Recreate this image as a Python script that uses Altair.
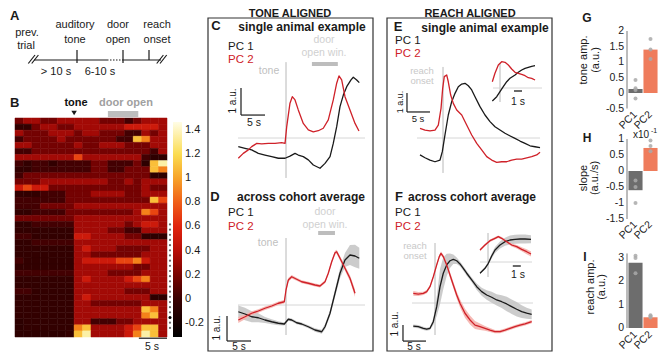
import altair as alt
import pandas as pd

FONT = "Liberation Sans"
OFF = 8
W, H = 650, 344
INK = "#1a1a1a"
RED = "#cf2129"
PINK = "#f5b3ad"
BANDGRAY = "#c6c6c6"

# ---------------- data ----------------
# Panel A schematic (schematic units)
timeline_events = ["auditory tone", "door open", "reach onset"]
timeline_pos = [49, 95, 121]

# Panel B heatmap: one string per animal/row, digit = index into heat_levels
heat_levels = [-0.3, -0.15, 0.03, 0.18, 0.33, 0.5, 0.7, 0.9, 1.1, 1.35]
heat_edges = [-10.5, -9, -7.5, -6, -4.5, -3, -1.5, 0, 1.5, 3, 4.5, 6, 7.5, 9, 10.5, 12, 13.5, 15, 16.5]
heat_rows = [
    "344334444433323444",
    "113443344444455554",
    "433344434433322434",
    "233334333333228744",
    "443333343344433344",
    "223333333333333324",
    "444444464444444200",
    "212212222332223089",
    "112222222332233387",
    "233333333333333300",
    "333444444443343444",
    "565533333333333433",
    "111222333444433444",
    "222222333333333386",
    "222333344444444444",
    "112222333333334764",
    "333333344444444444",
    "112222244444434554",
    "111111144443322444",
    "221111155444433100",
    "112222244444444444",
    "111111145444333344",
    "111111144333333444",
    "211111145555667544",
    "111111144444443344",
    "222222244443333444",
    "111111145444456744",
    "111111144444444444",
    "221111144444433344",
    "111111145444444400",
    "111111144333333444",
    "111111144444444874",
    "111111144444444784",
    "011111144222334444",
    "011111178444456884",
    "000000189444457984",
]
marker_rows = [17.5, 18.35, 19.2, 20.05, 20.9, 21.75, 22.6, 23.45, 24.3, 25.15, 26.0,
               26.85, 27.7, 28.55, 29.4, 30.25, 31.1, 31.95, 33.65, 34.5]
marker_black = [32.8]
door_open_heat = [6.0, 11.4]
heat_domain = [-0.32, 0, 0.2, 0.4, 0.6, 0.8, 1.0, 1.2, 1.47]
heat_colors = ["#000000", "#3a0000", "#7a0400", "#b80e08", "#e0240e", "#f05e18",
               "#f7a228", "#fbdc50", "#fffde6"]
cbar_ticks = [-0.2, 0, 0.2, 0.4, 0.6, 0.8, 1, 1.2, 1.4]
cbar_labels = ["-0.2", "0", "0.2", "0.4", "0.6", "0.8", "1", "1.2", "1.4"]

# Panel C (single animal, tone aligned)
C_t2 = [-9.94, -8.9, -7.85, -7.15, -6.1, -5.06, -3.69, -2.29, -0.9, -0.2, 0.15, 0.83, 1.31, 1.88, 2.56,
        3.6, 4.65, 5.69, 6.73, 7.77, 8.81, 9.85, 10.56, 11.04, 11.6, 12.29, 13.33, 14.38, 15.2]
C_pc2 = [-0.75, -0.57, -0.44, -0.32, -0.2, -0.22, -0.2, -0.2, -0.17, -0.2, 0.42, 1.29, 1.53, 1.41, 1.04,
         0.54, 0.3, 0.23, 0.27, 0.36, 0.67, 1.41, 2.03, 2.3, 2.15, 1.53, 1.04, 0.54, 0.26]
C_t1 = [-9.94, -8.54, -7.15, -5.77, -4.38, -2.98, -1.6, -0.2, 0.83, 1.88, 2.56, 3.6, 4.65, 5.69, 7.08,
        8.13, 9.17, 9.85, 10.56, 11.25, 11.94, 12.65, 13.54, 14.02, 14.73, 15.27]
C_pc1 = [-0.32, -0.38, -0.44, -0.57, -0.63, -0.69, -0.75, -0.75, -0.67, -0.57, -0.63, -0.69, -0.81, -1.0,
         -1.12, -0.94, -0.69, -0.2, 0.42, 1.16, 1.59, 1.9, 2.15, 2.25, 2.15, 2.05]
C_door = [5.4, 10.8]

# Panel D (cohort average, tone aligned)
D_t2 = [-9.94, -8.54, -7.15, -5.77, -4.38, -2.98, -1.6, -0.35, 0, 0.48, 1.19, 2.23, 3.27, 4.65, 6.04,
        7.08, 8.13, 8.81, 9.52, 10.21, 10.56, 11.25, 12.29, 13.33, 14.38]
D_pc2 = [-0.6, -0.47, -0.33, -0.24, -0.13, -0.04, 0.07, 0.13, 0.6, 1.0, 1.13, 1.03, 0.93, 0.87, 0.8,
         0.76, 0.93, 1.27, 1.73, 2.09, 2.13, 1.87, 1.47, 1.07, 0.47]
D_pc2_err = [0.12, 0.1, 0.08, 0.07, 0.07, 0.07, 0.07, 0.07, 0.08, 0.08, 0.07, 0.06, 0.06, 0.06, 0.06,
             0.06, 0.06, 0.07, 0.07, 0.08, 0.08, 0.09, 0.1, 0.12, 0.15]
D_t1 = [-9.94, -8.54, -7.15, -5.77, -4.38, -2.98, -1.6, -0.35, 0.48, 1.19, 2.23, 3.27, 4.65, 6.04, 7.44,
        8.13, 9.17, 10.21, 11.25, 12.29, 13.33, 14.38, 15.27]
D_pc1 = [-0.27, -0.36, -0.47, -0.51, -0.6, -0.67, -0.73, -0.76, -0.57, -0.6, -0.71, -0.76, -0.87, -1.0,
         -1.07, -0.87, -0.33, 0.47, 1.27, 1.8, 2.0, 1.96, 1.87]
D_pc1_err = [0.25, 0.25, 0.22, 0.18, 0.12, 0.1, 0.08, 0.06, 0.06, 0.06, 0.06, 0.06, 0.06, 0.07, 0.08,
             0.1, 0.12, 0.15, 0.2, 0.28, 0.4, 0.45, 0.42]
D_door = [6.7, 10.2]

# Panel E (single animal, reach aligned) + inset
E_t2 = [-5.0, -3.91, -2.83, -1.74, -1.02, -0.43, -0.07, 0.28, 0.8, 1.15, 1.67, 2.24, 2.98, 4.07, 5.15,
        6.24, 7.33, 8.41, 9.5, 10.59, 11.67, 12.76, 13.85, 14.93, 16.02, 17.11, 18.2, 19.28, 20.37, 21.09]
E_pc2 = [0.51, 0.42, 0.37, 0.42, 0.68, 1.56, 2.61, 3.23, 3.32, 2.96, 2.26, 1.82, 1.47, 1.21, 0.68,
         0.16, -0.28, -0.63, -0.98, -1.16, -1.28, -1.25, -1.25, -1.16, -1.11, -1.11, -1.04, -0.98, -0.89, -0.75]
E_t1 = [-5.0, -3.91, -2.83, -1.74, -0.65, -0.15, 0.43, 1.15, 1.89, 2.61, 3.33, 4.07, 4.78, 5.5, 6.24,
        6.96, 8.04, 9.13, 10.22, 11.3, 12.39, 13.48, 14.5, 15.65, 16.74, 17.83, 18.91, 20.0, 21.09]
E_pc1 = [-0.89, -1.04, -1.16, -1.25, -1.16, -0.72, 0.16, 1.21, 1.91, 2.35, 2.7, 2.84, 2.88, 2.75, 2.53,
         2.17, 1.65, 1.21, 0.86, 0.59, 0.42, 0.25, 0.12, -0.02, -0.16, -0.28, -0.41, -0.46, -0.51]
Ei_t2 = [-0.96, -0.63, -0.21, 0.21, 0.63, 1.04, 1.46, 1.88, 2.29, 2.71, 3.13, 3.54, 3.96, 4.38]
Ei_pc2 = [0.63, 1.47, 2.3, 2.63, 2.57, 2.3, 1.9, 1.57, 1.47, 1.37, 1.23, 1.03, 0.97, 0.8]
Ei_t1 = [-0.96, -0.41, 0.0, 0.41, 0.84, 1.25, 1.88, 2.29, 2.71, 3.13, 3.54, 3.96, 4.38]
Ei_pc1 = [-1.3, -0.87, -0.37, 0.13, 0.63, 0.97, 1.3, 1.57, 1.8, 1.97, 2.07, 2.17, 2.23]

# Panel F (cohort average, reach aligned) + inset
F_t2 = [-4.72, -3.63, -2.54, -1.8, -1.09, -0.37, 0.37, 0.93, 1.3, 1.8, 2.54, 3.26, 3.98, 4.72, 5.43,
        6.52, 7.61, 8.7, 9.78, 10.87, 11.96, 13.04, 14.13, 15.22, 16.3, 17.39, 18.48, 19.57, 21.02]
F_pc2 = [0.6, 0.56, 0.6, 0.71, 1.02, 1.64, 2.38, 2.9, 3.1, 2.9, 2.38, 1.75, 1.13, 0.5, -0.02,
         -0.64, -1.06, -1.38, -1.48, -1.58, -1.69, -1.79, -1.79, -1.69, -1.58, -1.48, -1.38, -1.31, -1.17]
F_pc2_err = [0.15, 0.12, 0.1, 0.1, 0.1, 0.1, 0.12, 0.12, 0.12, 0.12, 0.15, 0.18, 0.2, 0.22, 0.25,
             0.28, 0.28, 0.25, 0.2, 0.15, 0.12, 0.1, 0.1, 0.1, 0.1, 0.1, 0.1, 0.1, 0.1]
F_t1 = [-4.72, -3.63, -2.54, -1.8, -1.09, -0.37, 0.37, 1.09, 1.8, 2.54, 3.26, 3.98, 4.72, 5.43, 6.15,
        6.89, 7.98, 9.07, 10.15, 11.24, 12.33, 13.41, 14.5, 15.59, 16.67, 17.76, 18.85, 19.93, 21.02]
F_pc1 = [-1.44, -1.48, -1.58, -1.64, -1.58, -1.17, -0.23, 1.02, 1.86, 2.38, 2.64, 2.73, 2.64, 2.44, 2.17,
         1.86, 1.44, 1.02, 0.71, 0.5, 0.36, 0.19, 0.08, -0.06, -0.23, -0.39, -0.54, -0.64, -0.71]
F_pc1_err = [0.1, 0.1, 0.1, 0.1, 0.1, 0.2, 0.6, 1.1, 1.0, 0.7, 0.45, 0.3, 0.2, 0.15, 0.15,
             0.15, 0.15, 0.2, 0.25, 0.3, 0.35, 0.35, 0.4, 0.45, 0.45, 0.45, 0.4, 0.35, 0.3]
Fi_t2 = [-1.0, -0.375, 0.25, 0.875, 1.29, 1.71, 2.34, 2.96, 3.59, 4.21, 4.84, 5.375]
Fi_pc2 = [1.2, 1.7, 2.13, 2.37, 2.53, 2.37, 2.03, 1.7, 1.53, 1.27, 1.03, 0.8]
Fi_pc2_err = [0.12, 0.12, 0.12, 0.12, 0.12, 0.12, 0.12, 0.15, 0.18, 0.2, 0.25, 0.25]
Fi_t1 = [-1.0, -0.375, 0.04, 0.46, 0.875, 1.5, 2.125, 2.75, 3.375, 4.0, 4.625, 5.375]
Fi_pc1 = [-1.13, -0.63, -0.13, 0.6, 1.2, 1.7, 2.03, 2.2, 2.27, 2.3, 2.3, 2.27]
Fi_pc1_err = [0.1, 0.12, 0.15, 0.25, 0.3, 0.35, 0.4, 0.45, 0.45, 0.45, 0.45, 0.4]

# Bar panels G, H, I
pcs = ["PC1", "PC2"]
G_bars = [0.13, 1.4]
G_dots_pc1 = [0.42, 0.15, 0.1, -0.18]
G_dots_pc2 = [1.74, 1.4, 1.1]
H_bars = [-0.6, 0.72]
H_dots_pc1 = [-0.3, -0.5, -1.0]
H_dots_pc2 = [0.95, 0.78, 0.62]
I_bars = [2.8, 0.46]
I_dots_pc1 = [3.1, 3.0, 2.35]
I_dots_pc2 = [0.55, 0.5, 0.45]
G_ticks = [2, 1.5, 1, 0.5, 0, -0.5]
H_ticks = [1, 0.5, 0, -0.5, -1, -1.5]
I_ticks = [3, 2, 1, 0]


# ---------------- helpers ----------------
def P(v):
    return v - OFF


def xsc(x0, pxs, dom):
    return alt.Scale(domain=dom, range=[P(x0 + dom[0] * pxs), P(x0 + dom[1] * pxs)], nice=False, zero=False)


def ysc(y0, pys, dom):
    return alt.Scale(domain=dom, range=[P(y0 - dom[0] * pys), P(y0 - dom[1] * pys)], nice=False, zero=False)


layers = []


def add_line(t, v, xs, ys, color, sw=1.3):
    df = pd.DataFrame({"t": t, "v": v})
    layers.append(alt.Chart(df).mark_line(color=color, strokeWidth=sw, strokeJoin="round").encode(
        x=alt.X("t:Q", scale=xs, axis=None), y=alt.Y("v:Q", scale=ys, axis=None)))


def add_band(t, v, e, xs, ys, color, op=0.9):
    df = pd.DataFrame({"t": t, "v": v, "e": e})
    layers.append(alt.Chart(df).transform_calculate(
        lo="datum.v - datum.e", hi="datum.v + datum.e").mark_area(color=color, opacity=op).encode(
        x=alt.X("t:Q", scale=xs, axis=None), y=alt.Y("lo:Q", scale=ys, axis=None), y2="hi:Q"))


def add_seg(xa, xb, ya, yb, xs, ys, color=INK, sw=1.0, dash=None):
    df = pd.DataFrame({"xa": [xa], "xb": [xb], "ya": [ya], "yb": [yb]})
    kw = {}
    if dash:
        kw["strokeDash"] = dash
    layers.append(alt.Chart(df).mark_rule(color=color, strokeWidth=sw, **kw).encode(
        x=alt.X("xa:Q", scale=xs, axis=None), x2="xb:Q",
        y=alt.Y("ya:Q", scale=ys, axis=None), y2="yb:Q"))


def add_text(items, size=11, color=INK, weight="normal", align="center", angle=0, baseline="middle"):
    df = pd.DataFrame({"x": [P(i[0]) for i in items], "y": [P(i[1]) for i in items],
                       "s": [i[2] for i in items]})
    kw = dict(font=FONT, fontSize=size, color=color, fontWeight=weight, align=align, baseline=baseline)
    if angle:
        kw["angle"] = angle
    layers.append(alt.Chart(df).mark_text(**kw).encode(
        x=alt.X("x:Q", scale=None, axis=None), y=alt.Y("y:Q", scale=None, axis=None), text="s:N"))


def add_box(x1, y1, x2, y2):
    layers.append(alt.Chart(pd.DataFrame({"k": [0]})).mark_rect(
        fillOpacity=0, stroke="#333333", strokeWidth=1.2).encode(
        x=alt.value(P(x1)), x2=alt.value(P(x2)), y=alt.value(P(y1)), y2=alt.value(P(y2))))


# ---------------- Panel A ----------------
sx = alt.Scale(domain=[0, 140], range=[P(28), P(168)], nice=False, zero=False)
sy = alt.Scale(domain=[-10, 10], range=[P(70), P(50)], nice=False, zero=False)
add_seg(6, 79, 0, 0, sx, sy, sw=1.2)
add_seg(79, 94, 0, 0, sx, sy, sw=1.2, dash=[1.5, 1.5])
add_seg(94, 133, 0, 0, sx, sy, sw=1.2)
for name, p in zip(timeline_events, timeline_pos):
    lo = 0 if name == "reach onset" else -3
    add_seg(p, p, lo, 10, sx, sy, sw=1.2)
for a in [0.3, 3.7, 128.7, 132]:
    add_seg(a, a + 6.7, -3.5, 5, sx, sy, sw=1.2)
add_text([(27, 33, "prev."), (26, 46, "trial"), (75, 25, "auditory"), (75, 40, "tone"),
          (118, 25, "door"), (118, 40, "open"), (157, 25, "reach"), (157, 40, "onset"),
          (56, 72, "> 10 s"), (100, 72, "6-10 s")], size=11)

# ---------------- Panel B ----------------
hx = alt.Scale(domain=[-10.5, 16.5], range=[P(15), P(167)], nice=False, zero=False)
hy = alt.Scale(domain=[0, 36], range=[P(118), P(337)], nice=False, zero=False)
heat_scale = alt.Scale(domain=heat_domain, range=heat_colors)
recs = []
for r, row in enumerate(heat_rows):
    row = (row + row[-1] * 18)[:18]
    for c, ch in enumerate(row):
        recs.append({"t0": heat_edges[c], "t1": heat_edges[c + 1], "r0": r, "r1": r + 1,
                     "val": heat_levels[int(ch)]})
heat_df = pd.DataFrame(recs)
layers.append(alt.Chart(heat_df).mark_rect(strokeWidth=0.5).encode(
    x=alt.X("t0:Q", scale=hx, axis=None), x2="t1:Q",
    y=alt.Y("r0:Q", scale=hy, axis=None), y2="r1:Q",
    color=alt.Color("val:Q", scale=heat_scale, legend=None),
    stroke=alt.Stroke("val:Q", scale=heat_scale, legend=None)))

# colour bar (same colour stops as the heatmap scale)
cb_lo, cb_hi = heat_domain[0], heat_domain[-1]
cb_y = alt.Scale(domain=[cb_lo, cb_hi], range=[P(337), P(122)], nice=False, zero=False)
grad = alt.LinearGradient(
    gradient="linear", x1=0, x2=0, y1=1, y2=0,
    stops=[alt.GradientStop(offset=(d - cb_lo) / (cb_hi - cb_lo), color=c)
           for d, c in zip(heat_domain, heat_colors)])
layers.append(alt.Chart(pd.DataFrame({"lo": [cb_lo], "hi": [cb_hi]})).mark_rect(color=grad).encode(
    x=alt.value(P(173)), x2=alt.value(P(182)), y=alt.Y("lo:Q", scale=cb_y, axis=None), y2="hi:Q"))
layers.append(alt.Chart(pd.DataFrame({"v": cbar_ticks, "s": cbar_labels})).mark_text(
    align="left", baseline="middle", font=FONT, fontSize=11, color=INK).encode(
    x=alt.value(P(185)), y=alt.Y("v:Q", scale=cb_y, axis=None), text="s:N"))

layers.append(alt.Chart(pd.DataFrame({"t": [0]})).mark_point(
    shape="triangle-down", filled=True, size=30, color=INK, opacity=1).encode(
    x=alt.X("t:Q", scale=hx, axis=None), y=alt.value(P(113))))
layers.append(alt.Chart(pd.DataFrame({"a": [door_open_heat[0]], "b": [door_open_heat[1]]})).mark_rect(
    color="#bdbdbd").encode(x=alt.X("a:Q", scale=hx, axis=None), x2="b:Q",
                            y=alt.value(P(111)), y2=alt.value(P(117))))
add_seg(11.5, 16.5, 36.2, 36.2, hx, hy, sw=1.2)
layers.append(alt.Chart(pd.DataFrame({"r": marker_rows})).mark_circle(size=5, color="#666666", opacity=1).encode(
    x=alt.value(P(170)), y=alt.Y("r:Q", scale=hy, axis=None)))
layers.append(alt.Chart(pd.DataFrame({"r": marker_black})).mark_circle(size=9, color="#000000", opacity=1).encode(
    x=alt.value(P(170)), y=alt.Y("r:Q", scale=hy, axis=None)))
add_text([(76, 103, "tone")], size=11, weight="bold", color="#111111")
add_text([(126, 103, "door open")], size=11, weight="bold", color="#a0a0a0")
add_text([(152, 346.5, "5 s")], size=10.5)

# ---------------- boxes & titles ----------------
add_box(208, 18, 373, 351)
add_box(387, 18, 552, 351)
add_text([(290, 13.5, "TONE ALIGNED"), (470, 13.5, "REACH ALIGNED")], size=11, weight="bold")
add_text([(10, 16, "A"), (10, 103, "B")], size=13, weight="bold", align="left")
add_text([(216, 26, "C"), (215, 197, "D"), (398, 27, "E"), (399, 197, "F")], size=13, weight="bold")
add_text([(587, 18, "G"), (587, 138, "H"), (585, 257, "I")], size=12, weight="bold")
add_text([(302, 27, "single animal example"), (301, 197, "across cohort average"),
          (485, 28, "single animal example"), (472, 197, "across cohort average")], size=12, weight="bold")
add_text([(228, 47, "PC 1"), (228, 213, "PC 1"), (395, 41, "PC 1"), (395, 213, "PC 1")],
         size=11.5, align="left")
add_text([(228, 60, "PC 2"), (228, 227, "PC 2"), (395, 54, "PC 2"), (395, 227, "PC 2")],
         size=11.5, align="left", color=RED)

# ---------------- Panel C ----------------
cx = xsc(286, 4.8, [-13, 17])
cy = ysc(138, 27, [-1.6, 3.0])
add_seg(-10, 16.46, 0, 0, cx, cy, color="#d6d6d6", sw=1)
add_seg(0, 0, -1.48, 2.81, cx, cy, color="#b8b8b8", sw=1)
add_seg(C_door[0], C_door[1], 2.74, 2.74, cx, cy, color="#bdbdbd", sw=4)
add_line(C_t1, C_pc1, cx, cy, INK)
add_line(C_t2, C_pc2, cx, cy, RED)
add_seg(-9.375, -9.375, 0.85, 1.85, cx, cy, sw=1.2)
add_seg(-9.375, -4.375, 0.85, 0.85, cx, cy, sw=1.2)
add_text([(254, 123, "5 s")], size=10.5)
add_text([(233, 101, "1 a.u.")], size=10, angle=270)
add_text([(269, 71, "tone"), (268, 243, "tone")], size=10.5, color="#bfbfbf")
add_text([(324, 40, "door"), (324, 53, "open win."), (325, 212, "door"), (325, 225, "open win.")],
         size=10.5, color="#d0d0d0")

# ---------------- Panel D ----------------
dx = xsc(286, 4.8, [-13, 17])
dy = ysc(305, 25, [-1.6, 3.0])
add_seg(-10, 16.46, 0, 0, dx, dy, color="#d6d6d6", sw=1)
add_seg(0, 0, -1.2, 2.68, dx, dy, color="#b8b8b8", sw=1)
add_seg(D_door[0], D_door[1], 2.88, 2.88, dx, dy, color="#bdbdbd", sw=4)
add_band(D_t1, D_pc1, D_pc1_err, dx, dy, BANDGRAY)
add_band(D_t2, D_pc2, D_pc2_err, dx, dy, PINK)
add_line(D_t1, D_pc1, dx, dy, INK)
add_line(D_t2, D_pc2, dx, dy, RED)
add_seg(-12.29, -12.29, -1.44, -0.44, dx, dy, sw=1.2)
add_seg(-12.29, -7.29, -1.44, -1.44, dx, dy, sw=1.2)
add_text([(239, 346.5, "5 s")], size=10)
add_text([(217, 328, "1 a.u.")], size=10, angle=270)

# ---------------- Panel E ----------------
ex = xsc(443, 4.6, [-8, 22])
ey = ysc(138, 19, [-2, 4])
add_seg(-5.65, 21.1, 0, 0, ex, ey, color="#d6d6d6", sw=1)
add_seg(0, 0, -1.84, 3.74, ex, ey, color="#b8b8b8", sw=1)
add_line(E_t1, E_pc1, ex, ey, INK)
add_line(E_t2, E_pc2, ex, ey, RED)
add_seg(-7.83, -7.83, 1.37, 2.37, ex, ey, sw=1.2)
add_seg(-7.83, -2.83, 1.37, 1.37, ex, ey, sw=1.2)
add_text([(418, 119, "5 s")], size=9.5)
add_text([(400, 102, "1 a.u.")], size=9, angle=270)
eix = xsc(500, 8, [-1.5, 6])
eiy = ysc(88, 10, [-2, 3])
add_seg(0, 0, -1.4, 2.5, eix, eiy, color="#b8b8b8", sw=1)
add_seg(-0.875, 5.25, 0, 0, eix, eiy, color="#d6d6d6", sw=1)
add_seg(1.75, 2.75, -0.3, -0.3, eix, eiy, sw=1.3)
add_line(Ei_t1, Ei_pc1, eix, eiy, INK)
add_line(Ei_t2, Ei_pc2, eix, eiy, RED)
add_text([(518, 102, "1 s")], size=10.5)
add_text([(422, 70.5, "reach"), (422, 80.5, "onset"), (415, 245.5, "reach"), (415, 255.5, "onset")],
         size=9.5, color="#c8c8c8")

# ---------------- Panel F ----------------
fx = xsc(435, 4.6, [-8, 22])
fy = ysc(303, 16, [-3, 4])
add_seg(-5, 21.3, 0, 0, fx, fy, color="#d6d6d6", sw=1)
add_seg(0, 0, -2, 3.75, fx, fy, color="#b8b8b8", sw=1)
add_band(F_t1, F_pc1, F_pc1_err, fx, fy, BANDGRAY)
add_band(F_t2, F_pc2, F_pc2_err, fx, fy, PINK)
add_line(F_t1, F_pc1, fx, fy, INK)
add_line(F_t2, F_pc2, fx, fy, RED)
add_seg(-6.96, -6.96, -2.38, -1.38, fx, fy, sw=1.2)
add_seg(-6.96, -1.96, -2.38, -2.38, fx, fy, sw=1.2)
add_text([(414, 346.5, "5 s")], size=10)
add_text([(395, 324, "1 a.u.")], size=10, angle=270)
fix = xsc(488, 8, [-1.5, 6])
fiy = ysc(262, 10, [-2, 3])
add_seg(0, 0, -1.5, 2.9, fix, fiy, color="#b8b8b8", sw=1)
add_seg(-1, 5.5, 0, 0, fix, fiy, color="#d6d6d6", sw=1)
add_band(Fi_t1, Fi_pc1, Fi_pc1_err, fix, fiy, BANDGRAY)
add_band(Fi_t2, Fi_pc2, Fi_pc2_err, fix, fiy, PINK)
add_seg(3.1, 4.1, -0.4, -0.4, fix, fiy, sw=1.3)
add_line(Fi_t1, Fi_pc1, fix, fiy, INK)
add_line(Fi_t2, Fi_pc2, fix, fiy, RED)
add_text([(518, 275, "1 s")], size=10.5)


# ---------------- Bar panels ----------------
def bar_panel(bars, d1, d2, y0, pys, dom, ticks, xlab_y):
    ys = ysc(y0, pys, dom)
    xb = alt.Scale(domain=pcs, range=[P(628), P(658)], paddingInner=0.06, paddingOuter=0.03)
    bdf = pd.DataFrame({"pc": pcs, "val": bars, "zero": [0, 0]})
    layers.append(alt.Chart(bdf).mark_bar().encode(
        x=alt.X("pc:N", scale=xb, axis=None), y=alt.Y("val:Q", scale=ys, axis=None), y2="zero:Q",
        color=alt.Color("pc:N", scale=alt.Scale(domain=pcs, range=["#6d6d6d", "#ef7c5c"]), legend=None)))
    ddf = pd.DataFrame({"pc": ["PC1"] * len(d1) + ["PC2"] * len(d2), "val": d1 + d2})
    layers.append(alt.Chart(ddf).mark_circle(size=16, color="#a9a9a9", opacity=0.85).encode(
        x=alt.X("pc:N", scale=xb, axis=None), y=alt.Y("val:Q", scale=ys, axis=None)))
    layers.append(alt.Chart(pd.DataFrame({"a": [dom[0]], "b": [dom[1]]})).mark_rule(
        color="#555555", strokeWidth=0.8).encode(
        x=alt.value(P(627)), y=alt.Y("a:Q", scale=ys, axis=None), y2="b:Q"))
    tdf = pd.DataFrame({"v": ticks, "s": [("%g" % t) for t in ticks]})
    layers.append(alt.Chart(tdf).mark_text(align="right", baseline="middle", font=FONT, fontSize=10.5,
                                           color=INK).encode(
        x=alt.value(P(624)), y=alt.Y("v:Q", scale=ys, axis=None), text="s:N"))
    layers.append(alt.Chart(pd.DataFrame({"pc": pcs})).mark_text(
        angle=315, align="right", baseline="middle", font=FONT, fontSize=10.5, color=INK).encode(
        x=alt.X("pc:N", scale=xb, axis=None), y=alt.value(P(xlab_y)), text="pc:N"))


bar_panel(G_bars, G_dots_pc1, G_dots_pc2, 93, 31, [-0.5, 2.0], G_ticks, 113)
bar_panel(H_bars, H_dots_pc1, H_dots_pc2, 171, 32, [-1.5, 1.0], H_ticks, 223)
bar_panel(I_bars, I_dots_pc1, I_dots_pc2, 328, 23.3, [0, 3.2], I_ticks, 333)
add_text([(584, 60, "tone amp."), (596, 60, "(a.u.)"), (584, 178, "slope"), (595, 178, "(a.u./s)"),
          (591, 287, "reach amp."), (602, 287, "(a.u.)")], size=11, angle=270)
add_text([(633, 135, "x10")], size=10, align="left")
add_text([(651, 131, "-1")], size=7, align="left")

chart = alt.layer(*layers).resolve_scale(
    x="independent", y="independent", color="independent", stroke="independent"
).properties(
    width=W, height=H, padding=0, autosize=alt.AutoSizeParams(type="none")
).configure_view(strokeWidth=0)

chart.save("out.html", embed_options={"renderer": "svg", "actions": False})
